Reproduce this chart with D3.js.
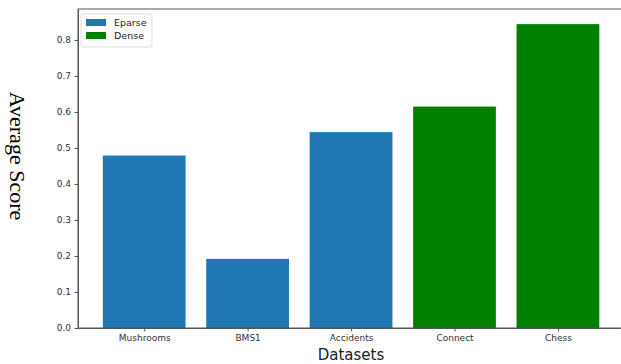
<!DOCTYPE html>
<html><head><meta charset="utf-8">
<script src="https://cdn.jsdelivr.net/npm/d3@7"></script>
<style>body{margin:0;background:#fff}svg{display:block}</style>
</head><body>
<script>
const categories = ["Mushrooms","BMS1","Accidents","Connect","Chess"];
const values = [0.479, 0.192, 0.544, 0.615, 0.844];
const groups = ["Eparse","Eparse","Eparse","Dense","Dense"];
const legendLabels = ["Eparse","Dense"];
const yTicks = [0.0,0.1,0.2,0.3,0.4,0.5,0.6,0.7,0.8];
const colors = {Eparse:"#1f77b4", Dense:"#008000"};

(function(){
const W=621,H=364;
const svg=d3.select("body").append("svg").attr("width",W).attr("height",H);
const mL=78,mR=620,mT=9,mB=328;
const x=d3.scaleLinear().domain([-0.64,4.6]).range([mL,mR]);
const y=d3.scaleLinear().domain([0,0.886]).range([mB,mT]);
const bw = x(0.8)-x(0);

svg.selectAll("rect.bar").data(values).enter().append("rect")
 .attr("x",(d,i)=>x(i)-bw/2).attr("width",bw)
 .attr("y",d=>y(d)).attr("height",d=>y(0)-y(d))
 .attr("fill",(d,i)=>colors[groups[i]]);

svg.append("rect").attr("x",mL).attr("y",mT).attr("width",mR+4-mL).attr("height",mB-mT)
 .attr("fill","none").attr("stroke","#555").attr("stroke-width",1);

const ya=svg.append("g").attr("transform",`translate(${mL},0)`)
 .call(d3.axisLeft(y).tickValues(yTicks).tickFormat(d3.format(".1f")).tickSize(3.5).tickSizeOuter(0).tickPadding(3.5));
const xa=svg.append("g").attr("transform",`translate(0,${mB})`)
 .call(d3.axisBottom(x).tickValues(d3.range(categories.length)).tickFormat(i=>categories[i]).tickSize(3.5).tickSizeOuter(0).tickPadding(3.5));
[ya,xa].forEach(a=>{
 a.select(".domain").attr("stroke","#555");
 a.selectAll(".tick line").attr("stroke","#555");
 a.selectAll(".tick text").attr("fill","#333").style("font-family","DejaVu Sans").style("font-size","9px");
});

svg.append("text").attr("transform",`translate(10,156) rotate(90)`)
 .attr("text-anchor","middle").style("font-family","Liberation Serif").style("font-size","22px")
 .attr("fill","#000").text("Average Score");
svg.append("text").attr("x",351).attr("y",360).attr("text-anchor","middle")
 .style("font-family","DejaVu Sans").style("font-size","15px").attr("fill","#222").text("Datasets");

const lg=svg.append("g");
lg.append("rect").attr("x",81).attr("y",14).attr("width",71).attr("height",33).attr("rx",2)
 .attr("fill","#fff").attr("stroke","#ddd");
legendLabels.forEach((l,i)=>{
 lg.append("rect").attr("x",86).attr("y",19+i*13).attr("width",20).attr("height",7).attr("fill",colors[l]);
 lg.append("text").attr("x",114).attr("y",26+i*13).style("font-family","DejaVu Sans").style("font-size","9.5px").attr("fill","#222").text(l);
});
})();
</script>
</body></html>
